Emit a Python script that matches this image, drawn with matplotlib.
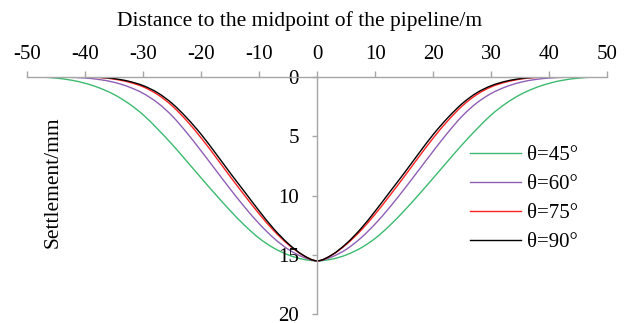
import matplotlib
matplotlib.use("Agg")
import matplotlib.pyplot as plt
from matplotlib.path import Path
from matplotlib.patches import PathPatch
from matplotlib.lines import Line2D

plt.rcParams['font.family'] = ['Liberation Serif', 'DejaVu Serif']
plt.rcParams['axes.unicode_minus'] = False

# distance to pipeline midpoint (m)
distance = [-50, -47.5, -45, -42.5, -40, -37.5, -35, -32.5, -30, -27.5, -25,
            -22.5, -20, -17.5, -15, -12.5, -10, -7.5, -5, -2.5, 0,
            2.5, 5, 7.5, 10, 12.5, 15, 17.5, 20, 22.5, 25,
            27.5, 30, 32.5, 35, 37.5, 40, 42.5, 45, 47.5, 50]

# settlement (mm) for each pipeline angle
settle_45 = [0.0, 0.03, 0.12, 0.28, 0.55, 0.95, 1.5, 2.25, 3.2, 4.4, 5.7,
             7.1, 8.52, 9.92, 11.27, 12.52, 13.6, 14.42, 15.0, 15.36, 15.5,
             15.36, 15.0, 14.42, 13.6, 12.52, 11.27, 9.92, 8.52, 7.1, 5.7,
             4.4, 3.2, 2.25, 1.5, 0.95, 0.55, 0.28, 0.12, 0.03, 0.0]
settle_60 = [0.0, 0.0, 0.02, 0.05, 0.11, 0.24, 0.47, 0.85, 1.4, 2.2, 3.3,
             4.7, 6.25, 7.85, 9.45, 10.98, 12.38, 13.58, 14.53, 15.17, 15.5,
             15.17, 14.53, 13.58, 12.38, 10.98, 9.45, 7.85, 6.25, 4.7, 3.3,
             2.2, 1.4, 0.85, 0.47, 0.24, 0.11, 0.05, 0.02, 0.0, 0.0]
settle_75 = [0.0, 0.0, 0.0, 0.0, 0.02, 0.07, 0.2, 0.45, 0.85, 1.5, 2.45,
             3.7, 5.15, 6.75, 8.4, 10.0, 11.55, 12.95, 14.12, 15.02, 15.5,
             15.02, 14.12, 12.95, 11.55, 10.0, 8.4, 6.75, 5.15, 3.7, 2.45,
             1.5, 0.85, 0.45, 0.2, 0.07, 0.02, 0.0, 0.0, 0.0, 0.0]
settle_90 = [0.0, 0.0, 0.0, 0.0, 0.01, 0.05, 0.16, 0.38, 0.75, 1.35, 2.25,
             3.45, 4.85, 6.45, 8.1, 9.7, 11.3, 12.8, 14.05, 15.0, 15.5,
             15.0, 14.05, 12.8, 11.3, 9.7, 8.1, 6.45, 4.85, 3.45, 2.25,
             1.35, 0.75, 0.38, 0.16, 0.05, 0.01, 0.0, 0.0, 0.0, 0.0]

labels = ['θ=45°', 'θ=60°', 'θ=75°', 'θ=90°']
colors = ['#3dba6f', '#8f5fb5', '#ff2020', '#000000']


def smooth_path(xs, ys):
    # smoothed line through the points (Catmull-Rom as cubic Bezier segments)
    pts = list(zip(xs, ys))
    n = len(pts)
    verts = [pts[0]]
    codes = [Path.MOVETO]
    for i in range(n - 1):
        p0 = pts[max(i - 1, 0)]
        p1 = pts[i]
        p2 = pts[i + 1]
        p3 = pts[min(i + 2, n - 1)]
        c1 = (p1[0] + (p2[0] - p0[0]) / 6, p1[1] + (p2[1] - p0[1]) / 6)
        c2 = (p2[0] - (p3[0] - p1[0]) / 6, p2[1] - (p3[1] - p1[1]) / 6)
        verts += [c1, c2, p2]
        codes += [Path.CURVE4] * 3
    return Path(verts, codes)


fig = plt.figure(figsize=(6.34, 3.23), dpi=100)
ax = fig.add_axes([0.0426, 0.0269, 0.9156, 0.7356])

handles = []
for s, lab, c in zip([settle_45, settle_60, settle_75, settle_90], labels, colors):
    ax.add_patch(PathPatch(smooth_path(distance, s), fill=False,
                           edgecolor=c, lw=1.0))
    handles.append(Line2D([], [], color=c, lw=1.0, label=lab))

ax.set_xlim(-50, 50)
ax.set_ylim(20, 0)
ax.set_xticks(range(-50, 51, 10))
ax.set_yticks(range(0, 21, 5))

ax.spines['right'].set_visible(False)
ax.spines['bottom'].set_visible(False)
ax.spines['left'].set_position(('data', 0))
for sp in ['top', 'left']:
    ax.spines[sp].set_color('#a6a6a6')
    ax.spines[sp].set_linewidth(1.0)

ax.xaxis.tick_top()
ax.tick_params(axis='x', direction='out', length=4.3, width=1, color='#a6a6a6',
               labelsize=15, pad=4.5)
ax.tick_params(axis='y', direction='out', length=3.6, width=1, color='#a6a6a6',
               labelsize=15, pad=9.5)

ax.set_ylabel('Settlement/mm', fontsize=15.5)
ax.yaxis.label.set_va('center')
ax.yaxis.label.set_ha('center')
ax.yaxis.set_label_coords(0.0448, 0.5547)
fig.text(300 / 634, 1 - 26 / 323, 'Distance to the midpoint of the pipeline/m',
         ha='center', va='baseline', fontsize=15.5)

ax.legend(handles=handles, loc='upper left', bbox_to_anchor=(0.763, 0.709),
          frameon=False, fontsize=15, handlelength=2.45, handletextpad=0.29,
          labelspacing=0.445, borderaxespad=0, borderpad=0)

fig.savefig('out.png', dpi=100)
